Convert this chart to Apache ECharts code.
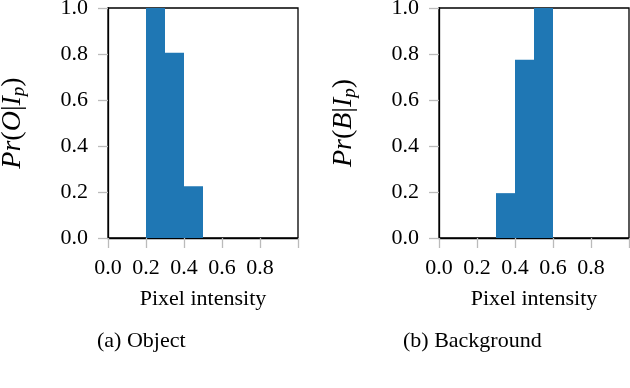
<!DOCTYPE html>
<html>
<head>
<meta charset="utf-8">
<script src="https://cdn.jsdelivr.net/npm/echarts@6/dist/echarts.min.js"></script>
<style>
  html, body { margin: 0; padding: 0; background: #fff; }
  #chart { width: 630px; height: 388px; }
</style>
</head>
<body>
<div id="chart"></div>
<script>
// histogram bins (left edge, right edge) and heights
var objBins = [[0.2, 0.3], [0.3, 0.4], [0.4, 0.5]];
var objVals = [1.0, 0.805, 0.225];
var bgBins = [[0.3, 0.4], [0.4, 0.5], [0.5, 0.6]];
var bgVals = [0.195, 0.775, 1.0];
var xTicks = ['0.0', '0.2', '0.4', '0.6', '0.8'];
var captions = ['(a) Object', '(b) Background'];

var serif = '"Liberation Serif", "DejaVu Serif", serif';
var barColor = '#1f77b4';

function histData(bins, vals) {
    var out = [];
    for (var i = 0; i < bins.length; i++) {
        out.push([bins[i][0], bins[i][1], vals[i]]);
    }
    return out;
}

function renderBin(params, api) {
    var p0 = api.coord([api.value(0), 0]);
    var p1 = api.coord([api.value(1), api.value(2)]);
    var rect = echarts.graphic.clipRectByRect({
        x: p0[0], y: p1[1], width: p1[0] - p0[0], height: p0[1] - p1[1]
    }, {
        x: params.coordSys.x, y: params.coordSys.y,
        width: params.coordSys.width, height: params.coordSys.height
    });
    return rect && {
        type: 'rect',
        shape: rect,
        style: { fill: barColor }
    };
}

function xAxisOpt(idx) {
    return {
        type: 'value', gridIndex: idx, min: 0, max: 1, interval: 0.2,
        name: 'Pixel intensity', nameLocation: 'middle', nameGap: 50,
        nameTextStyle: { fontFamily: serif, fontSize: 22, color: '#000' },
        axisLine: { show: true, onZero: false, lineStyle: { color: '#000', width: 1.3 } },
        axisTick: { show: true, length: 10, lineStyle: { color: '#bbb', width: 1.3 } },
        axisLabel: {
            fontFamily: serif, fontSize: 22, color: '#000', margin: 19,
            formatter: function (v) {
                var k = Math.round(v * 5);
                return k < xTicks.length ? xTicks[k] : '';
            }
        },
        splitLine: { show: false }
    };
}

function yAxisOpt(idx, sym) {
    return {
        type: 'value', gridIndex: idx, min: 0, max: 1, interval: 0.2,
        name: '{i|Pr}({i|' + sym + '}|{i|I}{sub|p})',
        nameLocation: 'middle', nameGap: 80, nameRotate: 90,
        nameTextStyle: {
            fontFamily: serif, fontSize: 28, color: '#000',
            rich: {
                i: { fontFamily: serif, fontSize: 28, fontStyle: 'italic', color: '#000' },
                sub: { fontFamily: serif, fontSize: 19, fontStyle: 'italic', color: '#000', padding: [11, 0, 0, 0] }
            }
        },
        axisLine: { show: true, lineStyle: { color: '#000', width: 1.3 } },
        axisTick: { show: true, length: 10, lineStyle: { color: '#bbb', width: 1.3 } },
        axisLabel: {
            fontFamily: serif, fontSize: 22, color: '#000', margin: 20,
            formatter: function (v) { return v.toFixed(1); }
        },
        splitLine: { show: false }
    };
}

var chart = echarts.init(document.getElementById('chart'), null, { renderer: 'canvas' });
var option = {
    backgroundColor: '#fff',
    animation: false,
    grid: [
        { left: 108, top: 8, width: 190, height: 230, outerBoundsMode: 'none', show: true, borderColor: '#000', borderWidth: 1.3, backgroundColor: 'transparent' },
        { left: 439, top: 8, width: 190, height: 230, outerBoundsMode: 'none', show: true, borderColor: '#000', borderWidth: 1.3, backgroundColor: 'transparent' }
    ],
    xAxis: [xAxisOpt(0), xAxisOpt(1)],
    yAxis: [yAxisOpt(0, 'O'), yAxisOpt(1, 'B')],
    graphic: [
        { type: 'text', left: 97, top: 330, style: { text: captions[0], font: '22px ' + serif, fill: '#000' } },
        { type: 'text', left: 403, top: 330, style: { text: captions[1], font: '22px ' + serif, fill: '#000' } }
    ],
    series: [
        {
            type: 'custom', xAxisIndex: 0, yAxisIndex: 0,
            renderItem: renderBin, encode: { x: [0, 1], y: 2 },
            data: histData(objBins, objVals), z: 1
        },
        {
            type: 'custom', xAxisIndex: 1, yAxisIndex: 1,
            renderItem: renderBin, encode: { x: [0, 1], y: 2 },
            data: histData(bgBins, bgVals), z: 1
        }
    ]
};
chart.setOption(option);
</script>
</body>
</html>
